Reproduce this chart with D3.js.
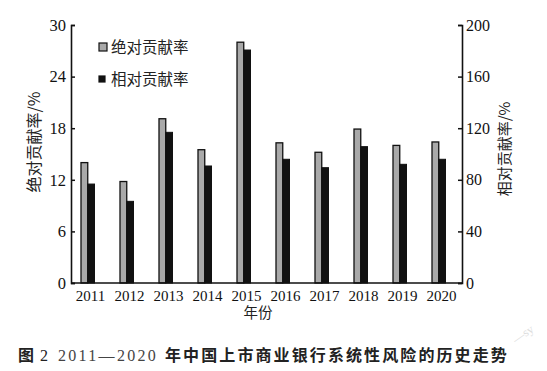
<!DOCTYPE html>
<html>
<head>
<meta charset="utf-8">
<script src="https://cdn.jsdelivr.net/npm/d3@7"></script>
<style>
  body { margin: 0; background: #fff; }
  svg { display: block; }
</style>
</head>
<body>
<div id="chart"></div>
<script>
var years = ["2011", "2012", "2013", "2014", "2015", "2016", "2017", "2018", "2019", "2020"]
var absolute = [14.0, 11.8, 19.1, 15.5, 28.0, 16.3, 15.2, 17.9, 16.0, 16.4]   // left axis, %
var relative = [76.7, 63.3, 116.8, 90.7, 180.6, 95.9, 89.4, 105.7, 92.0, 95.9] // right axis, %
var leftTicks = [0, 6, 12, 18, 24, 30]
var rightTicks = [0, 40, 80, 120, 160, 200]
var seriesNames = ["绝对贡献率", "相对贡献率"]

var width = 547, height = 371
var serif = "'Liberation Serif', 'DejaVu Serif', serif"
var cjk = "'Noto Sans CJK SC', sans-serif"

var svg = d3.select("#chart").append("svg")
    .attr("width", width)
    .attr("height", height)

var plotLeft = 71, plotRight = 462, plotTop = 25, plotBottom = 283

var x = d3.scaleBand()
    .domain(years)
    .range([plotLeft, plotRight - 1])

var inner = d3.scaleBand()
    .domain([0, 1])
    .range([-9.5, 4])

var yL = d3.scaleLinear().domain([0, 30]).range([plotBottom, plotTop])
var yR = d3.scaleLinear().domain([0, 200]).range([plotBottom, plotTop])

// bars
var g = svg.append("g")
g.selectAll("rect.abs")
    .data(years)
    .enter()
    .append("rect")
    .attr("class", "abs")
    .attr("x", function (d) { return x(d) + x.bandwidth() / 2 + inner(0) })
    .attr("width", inner.bandwidth())
    .attr("y", function (d, i) { return yL(absolute[i]) })
    .attr("height", function (d, i) { return plotBottom - yL(absolute[i]) })
    .attr("fill", "#a9a9a9")
    .attr("stroke", "#111")
    .attr("stroke-width", 1.3)

g.selectAll("rect.rel")
    .data(years)
    .enter()
    .append("rect")
    .attr("class", "rel")
    .attr("x", function (d) { return x(d) + x.bandwidth() / 2 + inner(1) })
    .attr("width", inner.bandwidth())
    .attr("y", function (d, i) { return yR(relative[i]) })
    .attr("height", function (d, i) { return plotBottom - yR(relative[i]) })
    .attr("fill", "#111")
    .attr("stroke", "#111")
    .attr("stroke-width", 1)

// axes
var leftAxis = svg.append("g")
    .attr("transform", "translate(" + plotLeft + ",0)")
    .call(d3.axisRight(yL).tickValues(leftTicks).tickSize(4).tickFormat(d3.format("d")))
leftAxis.selectAll("text").attr("x", -5).attr("text-anchor", "end").attr("font-size", 16.5)

var rightAxis = svg.append("g")
    .attr("transform", "translate(" + plotRight + ",0)")
    .call(d3.axisLeft(yR).tickValues(rightTicks).tickSize(4).tickFormat(d3.format("d")))
rightAxis.selectAll("text").attr("x", 4).attr("text-anchor", "start").attr("font-size", 16)

var xAxis = svg.append("g")
    .attr("transform", "translate(0," + plotBottom + ")")
    .call(d3.axisBottom(x).tickSize(0).tickPadding(7))
xAxis.select(".domain").attr("d", "M" + plotLeft + ",0H" + plotRight)
xAxis.selectAll("text").attr("font-size", 15)

svg.selectAll(".domain").attr("stroke", "#111").attr("stroke-width", 1.6)
svg.selectAll(".tick line").attr("stroke", "#111").attr("stroke-width", 1.5)
svg.selectAll(".tick text")
    .attr("font-family", serif)
    .attr("fill", "#111")

// axis titles
svg.append("text")
    .attr("transform", "translate(40,142) rotate(-90)")
    .attr("text-anchor", "middle")
    .attr("font-family", cjk)
    .attr("font-size", 16)
    .attr("fill", "#222")
    .text("绝对贡献率/%")

svg.append("text")
    .attr("transform", "translate(510,149) rotate(-90)")
    .attr("text-anchor", "middle")
    .attr("font-family", cjk)
    .attr("font-size", 15)
    .attr("fill", "#222")
    .text("相对贡献率/%")

svg.append("text")
    .attr("x", 258)
    .attr("y", 318)
    .attr("text-anchor", "middle")
    .attr("font-family", cjk)
    .attr("font-size", 14.5)
    .attr("fill", "#222")
    .text("年份")

// legend
var legend = svg.append("g").attr("transform", "translate(99,43)")
legend.selectAll("rect")
    .data(seriesNames)
    .enter()
    .append("rect")
    .attr("x", 0)
    .attr("y", function (d, i) { return i * 32 + (i === 0 ? 0 : 1) })
    .attr("width", function (d, i) { return i === 0 ? 8 : 6 })
    .attr("height", function (d, i) { return i === 0 ? 8 : 6 })
    .attr("fill", function (d, i) { return i === 0 ? "#a9a9a9" : "#111" })
    .attr("stroke", "#111")
    .attr("stroke-width", 1.2)
legend.selectAll("text")
    .data(seriesNames)
    .enter()
    .append("text")
    .attr("x", 12)
    .attr("y", function (d, i) { return i * 32 + 10 })
    .attr("font-family", cjk)
    .attr("font-size", 15.5)
    .attr("fill", "#222")
    .text(function (d) { return d })

// caption
var cap = svg.append("text")
    .attr("y", 361)
    .attr("fill", "#222")
    .attr("font-size", 16)
cap.append("tspan").attr("x", 18).attr("font-family", cjk).attr("font-weight", "bold").text("图")
cap.append("tspan").attr("x", 40).attr("font-family", serif).attr("font-size", 16).text("2")
cap.append("tspan").attr("x", 58).attr("font-family", serif).attr("font-size", 16)
    .attr("letter-spacing", 2.3).attr("fill", "#444")
    .text("2011—2020")
cap.append("tspan").attr("x", 165).attr("font-family", cjk).attr("font-weight", "bold")
    .attr("letter-spacing", 2.1)
    .text("年中国上市商业银行系统性风险的历史走势")

// faint watermark at bottom right
svg.append("text")
    .attr("transform", "translate(516,344) rotate(-35)")
    .attr("font-family", serif)
    .attr("font-size", 12)
    .attr("fill", "#ddd")
    .text("—sy")
</script>
</body>
</html>
